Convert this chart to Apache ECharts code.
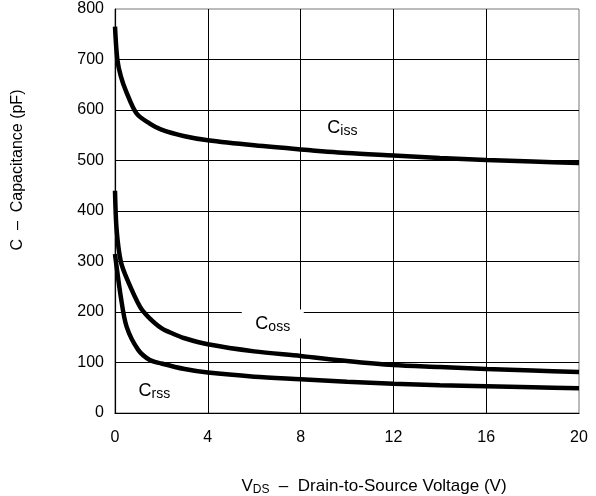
<!DOCTYPE html>
<html>
<head>
<meta charset="utf-8">
<script src="https://cdn.jsdelivr.net/npm/echarts@6/dist/echarts.min.js"></script>
<style>
html,body{margin:0;padding:0;background:#fff;}
#c{width:596px;height:496px;}
</style>
</head>
<body>
<div id="c"></div>
<script>
// Values (VDS in volts, capacitance in pF)
var xTicks = [0, 4, 8, 12, 16, 20];
var yTicks = [0, 100, 200, 300, 400, 500, 600, 700, 800];
var cissVds = [0, 0.1, 0.25, 0.47, 0.93, 1.5, 2, 3, 4, 6, 8, 10, 12, 14, 16, 18, 20];
var cissPf  = [765, 700, 667, 638, 593, 573, 561, 548, 540, 530, 522, 515, 510, 505, 501, 498, 495];
var cossVds = [0, 0.07, 0.25, 0.53, 1.08, 1.44, 2, 2.5, 3, 4, 6, 8, 10, 12, 14, 16, 18, 20];
var cossPf  = [440, 363, 300, 264, 210, 190, 168, 157, 148, 136, 122, 113, 103, 95, 91, 87, 84, 81];
var crssVds = [0, 0.04, 0.25, 0.5, 1.0, 1.5, 2, 3, 4, 6, 8, 10, 12, 14, 16, 18, 20];
var crssPf  = [315, 300, 230, 171, 125, 105, 98, 87, 80, 72, 67, 62, 58, 55, 53, 51, 49];
// label anchor points (data coordinates)
var cissLabelAt = [9.8, 565];
var cossLabelAt = [6.8, 176];
var crssLabelAt = [1.7, 44];

function pairs(xs, ys){ return xs.map(function(x,i){ return [x, ys[i]]; }); }

var FONT = '"Liberation Sans", Arial, Helvetica, sans-serif';
var richSub = {
  m: {fontSize: 18, lineHeight: 21, color: '#000', fontFamily: FONT},
  s: {fontSize: 14, lineHeight: 15, color: '#000', fontFamily: FONT, verticalAlign: 'bottom'}
};

function labelPoint(coord, txt, boxed){
  return {
    coord: coord,
    symbol: 'rect',
    symbolSize: boxed ? [62, 29] : [1, 1],
    itemStyle: {color: boxed ? '#fff' : 'rgba(0,0,0,0)'},
    label: {
      show: true, position: 'inside',
      formatter: '{m|C}{s|' + txt + '}',
      rich: richSub
    }
  };
}

function lineSeries(name, data, mp){
  return {
    name: name, type: 'line', data: data,
    smooth: 0.3, showSymbol: false, symbol: 'none',
    lineStyle: {color: '#000', width: 4.5},
    z: 3,
    markPoint: {
      silent: true,
      data: [mp],
      z: 5
    }
  };
}

var chart = echarts.init(document.getElementById('c'), null, {renderer: 'canvas'});
chart.setOption({
  backgroundColor: '#fff',
  animation: false,
  textStyle: {fontFamily: FONT},
  grid: {left: 115, right: 17, top: 9, bottom: 83, containLabel: false, outerBoundsMode: 'none',
         show: true, borderColor: '#777', borderWidth: 1, backgroundColor: 'transparent'},
  xAxis: {
    type: 'value', min: 0, max: 20, interval: 4,
    axisLine: {show: true, onZero: false, lineStyle: {color: '#000', width: 1.2}},
    axisTick: {show: false},
    splitLine: {show: true, showMinLine: false, showMaxLine: false, lineStyle: {color: '#000', width: 1}},
    axisLabel: {
      color: '#000', fontSize: 16, margin: 17, fontFamily: FONT,
      formatter: function(v){ return xTicks.indexOf(v) >= 0 ? String(v) : ''; }
    },
    name: '{m|V}{s|DS}{m|  –  Drain-to-Source Voltage (V)}',
    nameLocation: 'middle', nameGap: 63,
    nameTextStyle: {
      padding: [0, 0, 0, 54],
      rich: {
        m: {fontSize: 17, lineHeight: 20, color: '#000', fontFamily: FONT},
        s: {fontSize: 12, lineHeight: 12, color: '#000', fontFamily: FONT, verticalAlign: 'bottom'}
      }
    }
  },
  yAxis: {
    type: 'value', min: 0, max: 800, interval: 100,
    axisLine: {show: true, lineStyle: {color: '#000', width: 1.2}},
    axisTick: {show: false},
    splitLine: {show: true, showMinLine: false, showMaxLine: false, lineStyle: {color: '#000', width: 1}},
    axisLabel: {
      color: '#000', fontSize: 16, margin: 11, fontFamily: FONT,
      formatter: function(v){ return yTicks.indexOf(v) >= 0 ? String(v) : ''; }
    },
    name: 'C  –  Capacitance (pF)',
    nameLocation: 'middle', nameGap: 89, nameRotate: 90,
    nameTextStyle: {color: '#000', fontSize: 16, fontFamily: FONT, padding: [0, 0, 0, 82]}
  },
  series: [
    lineSeries('Ciss', pairs(cissVds, cissPf), labelPoint(cissLabelAt, 'iss', false)),
    lineSeries('Coss', pairs(cossVds, cossPf), labelPoint(cossLabelAt, 'oss', true)),
    lineSeries('Crss', pairs(crssVds, crssPf), labelPoint(crssLabelAt, 'rss', false))
  ]
});
</script>
</body>
</html>
